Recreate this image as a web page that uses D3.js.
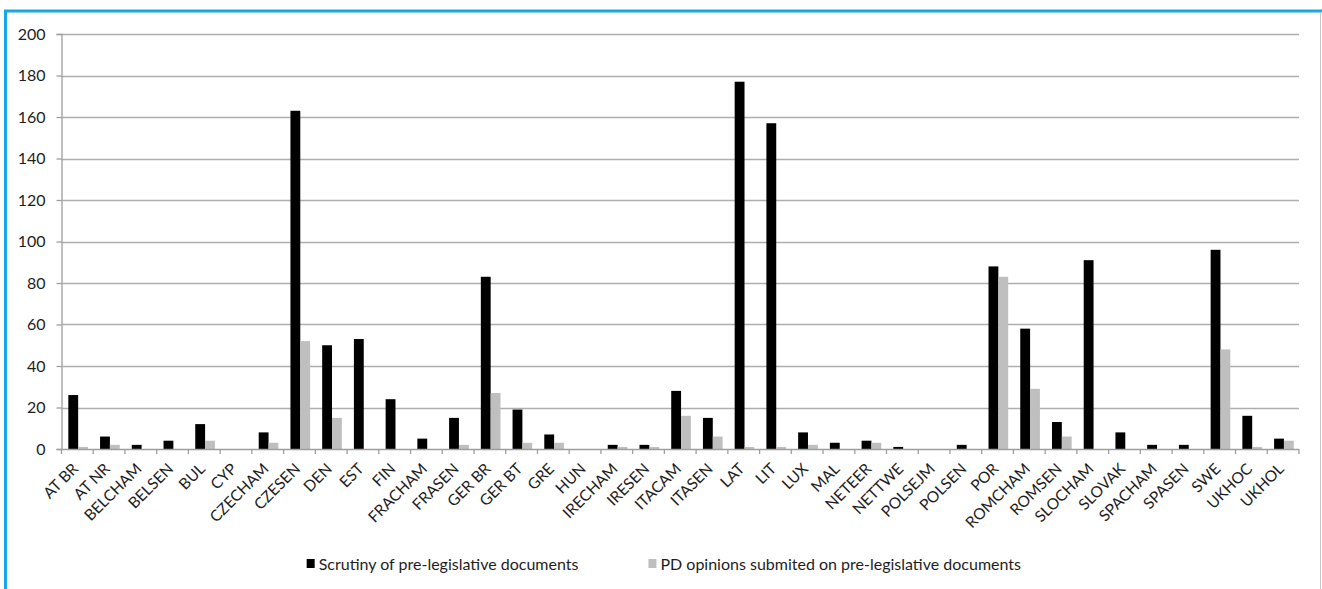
<!DOCTYPE html>
<html>
<head>
<meta charset="utf-8">
<script src="https://cdn.jsdelivr.net/npm/d3@7/dist/d3.min.js"></script>
<style>
  html, body { margin: 0; padding: 0; background: #fff; }
  svg { display: block; }
  text { font-family: Lato, "Open Sans", sans-serif; fill: #1e1e1e; }
</style>
</head>
<body>
<svg id="chart" width="1322" height="589"></svg>
<script>
// Chambers of national parliaments
const categories = ["AT BR","AT NR","BELCHAM","BELSEN","BUL","CYP","CZECHAM","CZESEN","DEN","EST",
  "FIN","FRACHAM","FRASEN","GER BR","GER BT","GRE","HUN","IRECHAM","IRESEN","ITACAM",
  "ITASEN","LAT","LIT","LUX","MAL","NETEER","NETTWE","POLSEJM","POLSEN","POR",
  "ROMCHAM","ROMSEN","SLOCHAM","SLOVAK","SPACHAM","SPASEN","SWE","UKHOC","UKHOL"];

// Scrutiny of pre-legislative documents
const scrutiny = [26,6,2,4,12,0,8,163,50,53,
  24,5,15,83,19,7,0,2,2,28,
  15,177,157,8,3,4,1,0,2,88,
  58,13,91,8,2,2,96,16,5];

// PD opinions submitted on pre-legislative documents
const opinions = [1,2,0,0,4,0,3,52,15,0,
  0,0,2,27,3,3,0,1,1,16,
  6,1,1,2,0,3,0,0,0,83,
  29,6,0,0,0,0,48,1,4];

const yTicks = [0,20,40,60,80,100,120,140,160,180,200];
const seriesNames = ["Scrutiny of pre-legislative documents",
                     "PD opinions submited on pre-legislative documents"];
const seriesColors = ["#000000", "#bfbfbf"];

const svg = d3.select("#chart");

// frame around the chart
svg.append("line").attr("x1", 5.5).attr("x2", 5.5).attr("y1", 10).attr("y2", 589)
  .attr("stroke", "#1aa7e6").attr("stroke-width", 3);
svg.append("line").attr("x1", 4).attr("x2", 1322).attr("y1", 11).attr("y2", 11)
  .attr("stroke", "#1aa7e6").attr("stroke-width", 3);
svg.append("line").attr("x1", 1320.5).attr("x2", 1320.5).attr("y1", 12).attr("y2", 589)
  .attr("stroke", "#c8c8c8").attr("stroke-width", 1);

const plotLeft = 61.5, plotRight = 1299, plotTop = 34, plotBottom = 449;

const x = d3.scaleBand().domain(categories).range([plotLeft, plotRight]).padding(0);
const y = d3.scaleLinear().domain([0, 200]).range([plotBottom, plotTop]);

// horizontal gridlines
svg.append("g").selectAll("line").data(yTicks.filter(d => d > 0)).join("line")
  .attr("x1", plotLeft).attr("x2", plotRight)
  .attr("y1", d => Math.round(y(d)) + 0.5).attr("y2", d => Math.round(y(d)) + 0.5)
  .attr("stroke", "#aeaeae").attr("stroke-width", 1.3);

// y axis
const yAxis = svg.append("g").attr("transform", `translate(${plotLeft},0)`)
  .call(d3.axisLeft(y).tickValues(yTicks).tickSize(5).tickPadding(11));
yAxis.select(".domain").attr("stroke", "#9e9e9e").attr("stroke-width", 1.3);
yAxis.selectAll(".tick line").attr("stroke", "#9e9e9e").attr("stroke-width", 1.3);
yAxis.selectAll(".tick text").style("font-size", "16px")
  .style("font-family", "Lato, 'Open Sans', sans-serif").attr("fill", "#1e1e1e");

// bars
const bw = x.bandwidth() * 0.31;
const offset = (x.bandwidth() - 2 * bw) / 2 + 0.8;
const groups = svg.append("g").selectAll("g").data(categories).join("g")
  .attr("transform", d => `translate(${x(d)},0)`);
[scrutiny, opinions].forEach((vals, si) => {
  groups.append("rect")
    .attr("x", offset + si * bw)
    .attr("width", bw)
    .attr("y", (d, i) => y(vals[i]))
    .attr("height", (d, i) => plotBottom - y(vals[i]))
    .attr("fill", seriesColors[si]);
});

// x axis with boundary ticks
const xAxisG = svg.append("g").attr("transform", `translate(0,${plotBottom})`);
xAxisG.append("line").attr("x1", plotLeft).attr("x2", plotRight).attr("y1", 0.5).attr("y2", 0.5)
  .attr("stroke", "#9e9e9e").attr("stroke-width", 1.3);
const bounds = categories.map(c => x(c)).concat([plotRight]);
xAxisG.selectAll("line.tk").data(bounds).join("line").attr("class", "tk")
  .attr("x1", d => d).attr("x2", d => d).attr("y1", 0).attr("y2", 5)
  .attr("stroke", "#9e9e9e").attr("stroke-width", 1.3);
xAxisG.selectAll("text").data(categories).join("text")
  .attr("transform", d => `translate(${x(d) + x.bandwidth() / 2 - 2},${17}) rotate(-45)`)
  .attr("text-anchor", "end")
  .attr("dy", "0.35em")
  .style("font-size", "15.5px")
  .text(d => d);

// legend: two entries laid out side by side, ending near the right of the plot
const legend = svg.append("g");
const legendEnd = 1021, legendGap = 70, swatchStep = 12;
const items = seriesNames.map((name, i) => {
  const t = legend.append("text").attr("y", 570).style("font-size", "16px").text(name);
  return { t, w: t.node().getComputedTextLength(), i };
});
let cursor = legendEnd - (items[0].w + items[1].w + 2 * swatchStep + legendGap);
items.forEach(({ t, w, i }) => {
  legend.append("rect").attr("x", cursor).attr("y", 559).attr("width", 8).attr("height", 9)
    .attr("fill", seriesColors[i]);
  t.attr("x", cursor + swatchStep);
  cursor += swatchStep + w + legendGap;
});
</script>
</body>
</html>
